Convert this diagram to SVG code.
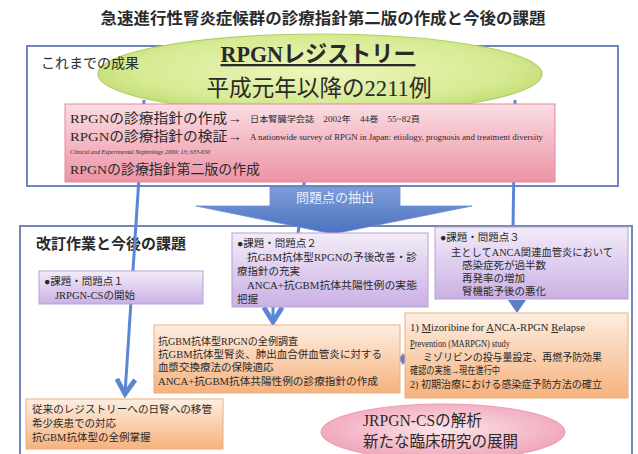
<svg xmlns="http://www.w3.org/2000/svg" width="638" height="454" viewBox="0 0 638 454">
<style>
.t{font-family:"Liberation Serif","Noto Sans CJK JP",serif;fill:#2a2a2a}
.s{font-family:"Noto Sans CJK JP","Liberation Sans",sans-serif;fill:#2a2a2a}
.frame{fill:#fff;stroke:#6e86ba;stroke-width:2}
.pur{fill:url(#gPur);stroke:#b7a0d6;stroke-width:1}
.ora{fill:url(#gOra);stroke:#efae7e;stroke-width:1}
.ln{fill:none;stroke:#5b86d4;stroke-width:3}
.f11{font-size:10.5px}
</style>
<defs>
<radialGradient id="gGreen" cx="0.5" cy="0.45" r="0.6">
<stop offset="0" stop-color="#eef6bc"/><stop offset="0.7" stop-color="#d6ea92"/><stop offset="1" stop-color="#b9d66a"/>
</radialGradient>
<linearGradient id="gPink" x1="0" y1="0" x2="0" y2="1">
<stop offset="0" stop-color="#fbdde3"/><stop offset="1" stop-color="#ec93a5"/>
</linearGradient>
<linearGradient id="gPur" x1="0" y1="0" x2="0" y2="1">
<stop offset="0" stop-color="#f3ecf9"/><stop offset="1" stop-color="#cab0e4"/>
</linearGradient>
<linearGradient id="gOra" x1="0" y1="0" x2="0" y2="1">
<stop offset="0" stop-color="#fdeee1"/><stop offset="1" stop-color="#f5b27e"/>
</linearGradient>
<radialGradient id="gRose" cx="0.5" cy="0.45" r="0.6">
<stop offset="0" stop-color="#fde4ea"/><stop offset="1" stop-color="#ef9fb4"/>
</radialGradient>
<linearGradient id="gBlue" x1="0" y1="0" x2="0" y2="1">
<stop offset="0" stop-color="#7c9dd9"/><stop offset="1" stop-color="#4c72bf"/>
</linearGradient>
<marker id="v" viewBox="0 0 12 12" refX="10" refY="6" markerWidth="22" markerHeight="22" markerUnits="userSpaceOnUse" orient="auto">
<path d="M2,1 L10,6 L2,11" fill="none" stroke="#5b86d4" stroke-width="2.6"/>
</marker>
</defs>
<rect width="638" height="454" fill="#fff"/>
<text class="s" x="323" y="24" font-size="15.5" font-weight="bold" text-anchor="middle" textLength="445" lengthAdjust="spacingAndGlyphs">急速進行性腎炎症候群の診療指針第二版の作成と今後の課題</text>

<g id="frame-top">
<rect class="frame" x="27" y="46" width="591" height="140"/>
</g>
<g id="frame-bottom">
<rect class="frame" x="20" y="226" width="612" height="240"/>
<text class="s" x="36" y="249" font-size="15" font-weight="bold">改訂作業と今後の課題</text>
</g>

<g id="connectors">
<line class="ln" x1="144" y1="100" x2="125" y2="394" marker-end="url(#v)"/>
<line class="ln" x1="314" y1="100" x2="298" y2="234"/>
<line class="ln" x1="515" y1="100" x2="513" y2="228"/>
<line class="ln" x1="273" y1="307" x2="273" y2="322" marker-end="url(#v)"/>
<path d="M517,313 L508,300 L526,300 Z" fill="#5b80c8"/>
<path d="M381,359 L389,353 L389,356 L402,356 L402,353 L410,359 L402,365 L402,362 L389,362 L389,365 Z" fill="#5b80c8" stroke="#9db4e6" stroke-width="0.8"/>
</g>

<g id="registry">
<ellipse cx="320" cy="74" rx="222" ry="40" fill="url(#gGreen)" stroke="#b3cf68" stroke-width="1.2"/>
<text class="t" x="318" y="62" font-size="23" font-weight="bold" text-anchor="middle" text-decoration="underline" textLength="195" lengthAdjust="spacingAndGlyphs">RPGNレジストリー</text>
<text class="t" x="319" y="96" font-size="23" text-anchor="middle" textLength="225" lengthAdjust="spacingAndGlyphs">平成元年以降の2211例</text>
</g>

<g id="top-label">
<text class="s" x="41" y="68" font-size="14">これまでの成果</text>
</g>

<g id="achievements">
<rect x="65" y="104" width="490" height="78" fill="url(#gPink)" stroke="#e48a9c" stroke-width="1"/>
<text class="t" x="70" y="123" font-size="13.5" textLength="172" lengthAdjust="spacingAndGlyphs">RPGNの診療指針の作成→</text>
<text class="t" x="250" y="122" font-size="8.5" textLength="170" lengthAdjust="spacingAndGlyphs">日本腎臓学会誌　2002年　44巻　55~82頁</text>
<text class="t" x="70" y="141" font-size="13.5" textLength="172" lengthAdjust="spacingAndGlyphs">RPGNの診療指針の検証→</text>
<text class="t" x="250" y="140" font-size="8" textLength="293" lengthAdjust="spacingAndGlyphs">A nationwide survey of RPGN in Japan: etiology, prognosis and treatment diversity</text>
<text class="t" x="70" y="154" font-size="7" font-style="italic" textLength="140" lengthAdjust="spacingAndGlyphs">Clinical and Experimental Nephrology 2009: 13; 633-650</text>
<text class="t" x="70" y="174" font-size="13.5" textLength="190" lengthAdjust="spacingAndGlyphs">RPGNの診療指針第二版の作成</text>
</g>

<g id="extraction-arrow">
<polygon points="270,187 400,187 400,206 472,206 333,234 196,206 270,206" fill="url(#gBlue)" stroke="#6a8cd0" stroke-width="0.8"/>
<text class="s" x="335" y="202" font-size="13" text-anchor="middle" style="fill:#e6eefa">問題点の抽出</text>
</g>

<g id="issue1">
<rect class="pur" x="39" y="271" width="164" height="33"/>
<text class="t f11" x="44" y="285">●課題・問題点１</text>
<text class="t f11" x="55" y="299">JRPGN-CSの開始</text>
</g>

<g id="issue2">
<rect class="pur" x="232" y="233" width="196" height="74"/>
<text class="t f11" x="237" y="247">●課題・問題点２</text>
<text class="t f11" x="247" y="261" textLength="170" lengthAdjust="spacingAndGlyphs">抗GBM抗体型RPGNの予後改善・診</text>
<text class="t f11" x="237" y="275">療指針の充実</text>
<text class="t f11" x="247" y="289" textLength="170" lengthAdjust="spacingAndGlyphs">ANCA+抗GBM抗体共陽性例の実態</text>
<text class="t f11" x="237" y="303">把握</text>
</g>

<g id="issue3">
<rect class="pur" x="435" y="227" width="193" height="72"/>
<text class="t f11" x="440" y="241">●課題・問題点３</text>
<text class="t f11" x="451" y="256" textLength="162" lengthAdjust="spacingAndGlyphs">主としてANCA関連血管炎において</text>
<text class="t f11" x="462" y="269">感染症死が過半数</text>
<text class="t f11" x="462" y="282">再発率の増加</text>
<text class="t f11" x="462" y="295">腎機能予後の悪化</text>
</g>

<g id="gbm-survey">
<rect class="ora" x="154" y="325" width="246" height="68"/>
<text class="t f11" x="158" y="345" textLength="140" lengthAdjust="spacingAndGlyphs">抗GBM抗体型RPGNの全例調査</text>
<text class="t f11" x="158" y="358" textLength="224" lengthAdjust="spacingAndGlyphs">抗GBM抗体型腎炎、肺出血合併血管炎に対する</text>
<text class="t f11" x="158" y="371">血漿交換療法の保険適応</text>
<text class="t f11" x="158" y="385" textLength="220" lengthAdjust="spacingAndGlyphs">ANCA+抗GBM抗体共陽性例の診療指針の作成</text>
</g>

<g id="marpgn">
<rect class="ora" x="405" y="313" width="223" height="85"/>
<text class="t" x="410" y="331" font-size="10" textLength="175" lengthAdjust="spacingAndGlyphs">1)  <tspan text-decoration="underline">M</tspan>izoribine for <tspan text-decoration="underline">A</tspan>NCA-RPGN <tspan text-decoration="underline">R</tspan>elapse</text>
<text class="t" x="410" y="347" font-size="10" textLength="100" lengthAdjust="spacingAndGlyphs"><tspan text-decoration="underline">P</tspan>revention (MARPGN) study</text>
<text class="t f11" x="423" y="361" textLength="179" lengthAdjust="spacingAndGlyphs">ミゾリビンの投与量設定、再燃予防効果</text>
<text class="t f11" x="410" y="374" textLength="90" lengthAdjust="spacingAndGlyphs">確認の実施→現在進行中</text>
<text class="t f11" x="410" y="388" textLength="192" lengthAdjust="spacingAndGlyphs">2)  初期治療における感染症予防方法の確立</text>
</g>

<g id="registry-transfer">
<rect class="ora" x="26" y="399" width="197" height="50"/>
<text class="t f11" x="32" y="413" textLength="180" lengthAdjust="spacingAndGlyphs">従来のレジストリーへの日腎への移管</text>
<text class="t f11" x="32" y="427">希少疾患での対応</text>
<text class="t f11" x="32" y="441">抗GBM抗体型の全例掌握</text>
</g>

<g id="analysis">
<ellipse cx="443" cy="432" rx="122" ry="28" fill="url(#gRose)" stroke="#e79db2" stroke-width="1"/>
<text class="t" x="363" y="426" font-size="16" textLength="119" lengthAdjust="spacingAndGlyphs">JRPGN-CSの解析</text>
<text class="t" x="363" y="447" font-size="16" textLength="155" lengthAdjust="spacingAndGlyphs">新たな臨床研究の展開</text>
</g>
</svg>
